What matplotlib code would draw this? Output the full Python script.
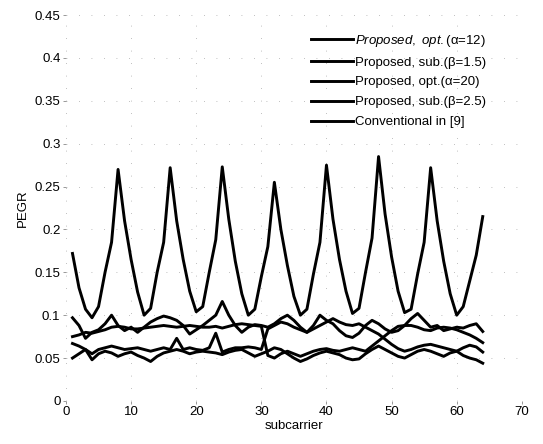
import matplotlib
matplotlib.use("Agg")
import matplotlib.pyplot as plt
import numpy as np

plt.rcParams['font.family'] = ['Liberation Sans', 'DejaVu Sans']
plt.rcParams['mathtext.fontset'] = 'custom'
plt.rcParams['mathtext.rm'] = 'Liberation Sans'
plt.rcParams['mathtext.it'] = 'Liberation Sans:italic'

subcarrier = np.arange(1, 65)

opt_a12 = [0.097, 0.088, 0.073, 0.080, 0.083, 0.090, 0.100, 0.088, 0.082, 0.086,
           0.080, 0.086, 0.092, 0.096, 0.099, 0.097, 0.094, 0.088, 0.078, 0.083,
           0.088, 0.094, 0.100, 0.116, 0.100, 0.088, 0.080, 0.086, 0.089, 0.088,
           0.086, 0.090, 0.096, 0.100, 0.094, 0.086, 0.080, 0.088, 0.100, 0.094,
           0.090, 0.082, 0.076, 0.074, 0.079, 0.088, 0.094, 0.090, 0.084, 0.080,
           0.082, 0.088, 0.096, 0.102, 0.094, 0.086, 0.088, 0.082, 0.084, 0.086,
           0.085, 0.088, 0.090, 0.081]

sub_b15 = [0.075, 0.077, 0.080, 0.079, 0.081, 0.083, 0.086, 0.087, 0.086, 0.084,
           0.084, 0.085, 0.086, 0.087, 0.088, 0.087, 0.086, 0.087, 0.088, 0.087,
           0.086, 0.086, 0.087, 0.085, 0.087, 0.089, 0.090, 0.089, 0.088, 0.087,
           0.053, 0.050, 0.055, 0.058, 0.055, 0.052, 0.055, 0.058, 0.060, 0.061,
           0.059, 0.058, 0.060, 0.062, 0.060, 0.058, 0.064, 0.070, 0.076, 0.082,
           0.087, 0.088, 0.088, 0.086, 0.083, 0.082, 0.085, 0.086, 0.085, 0.083,
           0.080, 0.077, 0.073, 0.068]

opt_a20 = [0.067, 0.064, 0.060, 0.055, 0.060, 0.062, 0.064, 0.062, 0.060, 0.061,
           0.062, 0.060, 0.058, 0.060, 0.062, 0.060, 0.073, 0.060, 0.062, 0.060,
           0.059, 0.062, 0.079, 0.057, 0.060, 0.062, 0.062, 0.063, 0.062, 0.060,
           0.084, 0.088, 0.092, 0.090, 0.086, 0.083, 0.080, 0.084, 0.088, 0.092,
           0.096, 0.092, 0.089, 0.088, 0.090, 0.086, 0.082, 0.078, 0.072, 0.066,
           0.061, 0.058, 0.060, 0.063, 0.065, 0.066, 0.064, 0.062, 0.060, 0.058,
           0.062, 0.065, 0.063, 0.057]

sub_b25 = [0.050, 0.055, 0.060, 0.048, 0.055, 0.058, 0.056, 0.052, 0.055, 0.057,
           0.053, 0.050, 0.046, 0.052, 0.056, 0.058, 0.060, 0.058, 0.055, 0.057,
           0.058, 0.057, 0.056, 0.054, 0.057, 0.059, 0.060, 0.056, 0.052, 0.055,
           0.058, 0.062, 0.060, 0.055, 0.050, 0.046, 0.049, 0.053, 0.056, 0.058,
           0.056, 0.054, 0.050, 0.048, 0.049, 0.055, 0.060, 0.064, 0.060, 0.056,
           0.052, 0.050, 0.054, 0.058, 0.060, 0.058, 0.055, 0.052, 0.056, 0.058,
           0.053, 0.050, 0.048, 0.044]

conventional = [0.172, 0.132, 0.107, 0.097, 0.110, 0.150, 0.185, 0.270, 0.210, 0.165,
                0.127, 0.100, 0.108, 0.150, 0.185, 0.272, 0.210, 0.165, 0.128, 0.104,
                0.110, 0.150, 0.188, 0.273, 0.212, 0.163, 0.125, 0.100, 0.107, 0.145,
                0.180, 0.255, 0.200, 0.158, 0.122, 0.100, 0.107, 0.148, 0.185, 0.275,
                0.212, 0.165, 0.128, 0.102, 0.108, 0.150, 0.190, 0.285, 0.218, 0.168,
                0.128, 0.103, 0.107, 0.148, 0.185, 0.272, 0.210, 0.163, 0.125, 0.100,
                0.110, 0.140, 0.170, 0.215]

labels = [r"$\mathit{Proposed,\ opt.}$" + "(α=12)",
          "Proposed, sub.(β=1.5)",
          "Proposed, opt.(α=20)",
          "Proposed, sub.(β=2.5)",
          "Conventional in [9]"]
series = [opt_a12, sub_b15, opt_a20, sub_b25, conventional]

fig = plt.figure(figsize=(5.43, 4.44), dpi=100)
ax = fig.add_axes([0.1215, 0.097, 0.8395, 0.869])

for vals, lab in zip(series, labels):
    ax.plot(subcarrier, vals, color='black', lw=2.1, label=lab)

ax.set_xlim(0, 70)
ax.set_ylim(0, 0.45)
ax.set_xticks(np.arange(0, 71, 10))
ax.set_yticks(np.arange(0, 0.451, 0.05))
ax.set_yticklabels(['0', '0.05', '0.1', '0.15', '0.2', '0.25', '0.3', '0.35', '0.4', '0.45'])
for s in ax.spines.values():
    s.set_visible(False)
ax.tick_params(axis='both', labelsize=9.5, length=2, width=0.6, color='#888888', pad=2)
ax.grid(True, color='#aaaaaa', linestyle=(0, (1, 14)), linewidth=0.6)

ax.set_xlabel('subcarrier', fontsize=9.5, labelpad=1)
ax.set_ylabel('PEGR', fontsize=9.5, labelpad=4)

leg = ax.legend(loc='upper right', bbox_to_anchor=(0.94, 0.975), frameon=False,
                fontsize=9.5, handlelength=3.2, handletextpad=0.2, labelspacing=0.58,
                borderaxespad=0.2)

fig.savefig('out.png', dpi=100)
